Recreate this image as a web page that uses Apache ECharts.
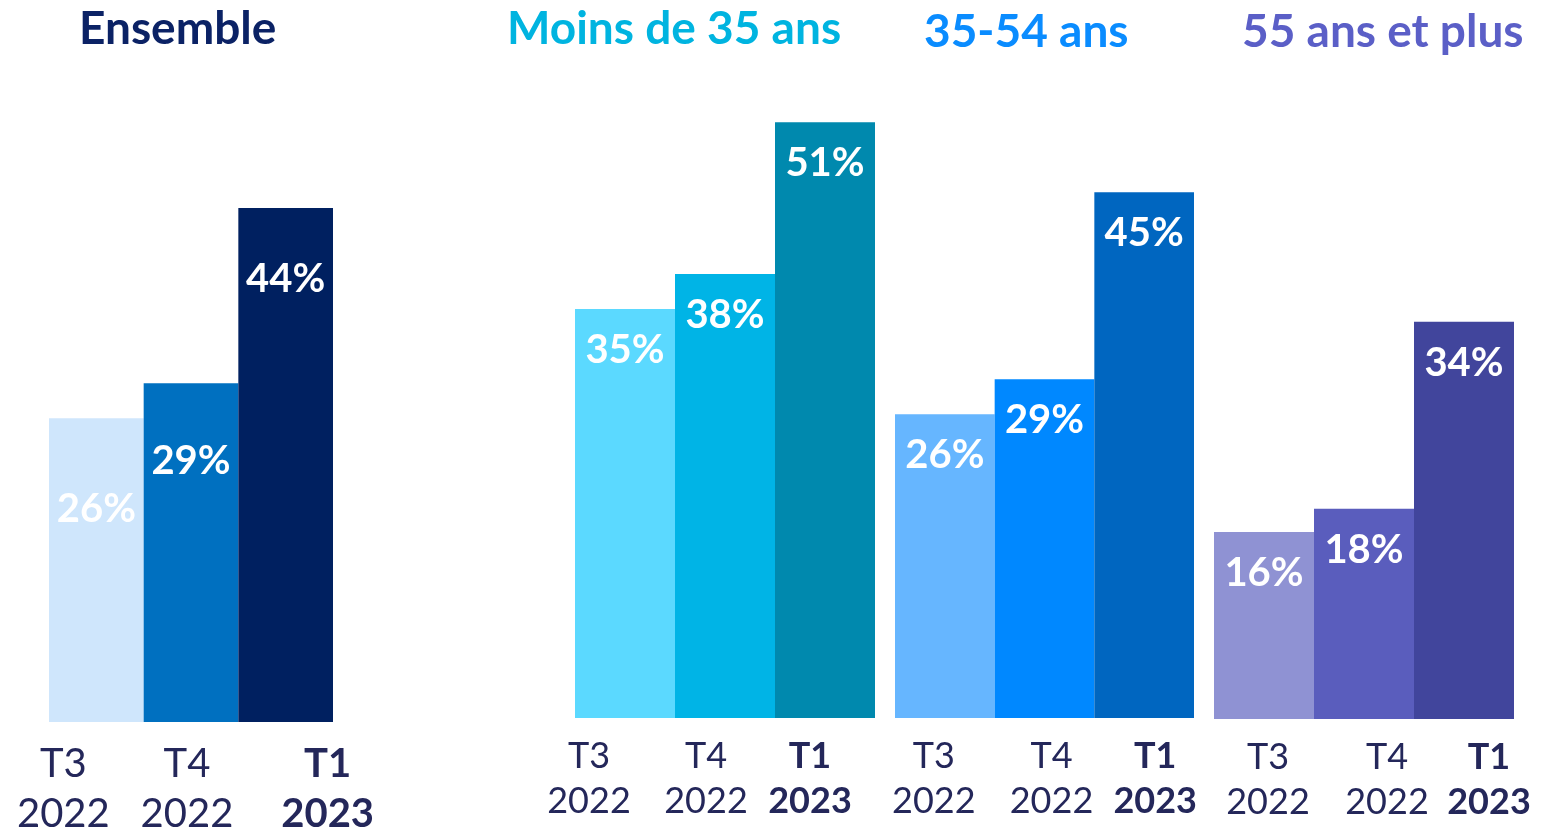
<!DOCTYPE html>
<html>
<head>
<meta charset="utf-8">
<script src="https://cdn.jsdelivr.net/npm/echarts@6/dist/echarts.min.js"></script>
<style>
  html, body { margin: 0; padding: 0; background: #fff; }
  #chart { width: 1544px; height: 831px; }
</style>
</head>
<body>
<div id="chart"></div>
<script>
const periods = ['T3 2022', 'T4 2022', 'T1 2023'];
const groups = ['Ensemble', 'Moins de 35 ans', '35-54 ans', '55 ans et plus'];
const ensemble = [26, 29, 44];
const moins35 = [35, 38, 51];
const age3554 = [26, 29, 45];
const plus55 = [16, 18, 34];

const values = [ensemble, moins35, age3554, plus55];
const colors = [
    ['#cfe6fc', '#0070c0', '#002060'],
    ['#5bd9ff', '#00b4e6', '#0089ae'],
    ['#66b6ff', '#0088ff', '#0066c0'],
    ['#8f92d3', '#5a5dbd', '#41459c']
];
const titleColors = ['#0b2265', '#00b4e0', '#0a8cff', '#5b5fc7'];
const titleLeft = [74, 502, 919, 1237];
const titleTop = [1, 1, 4, 4];
// label distance from bar top, and horizontal shift of period labels
const labelDist = [[71, 58, 51], [21, 21, 21], [21, 21, 21], [21, 21, 21]];
const tickShift = [[-33, -4, 42], [-36, -19, -15], [-11, 7, 11], [4, 23, 25]];

const grids = [
    { left: 49, width: 284, top: 21, height: 701, outerBoundsMode: 'none' },
    { left: 575, width: 300, top: 17, height: 701, outerBoundsMode: 'none' },
    { left: 895, width: 299, top: 17, height: 701, outerBoundsMode: 'none' },
    { left: 1214, width: 300, top: 18, height: 701, outerBoundsMode: 'none' }
];

const myChart = echarts.init(document.getElementById('chart'));

const option = {
    backgroundColor: '#fff',
    animation: false,
    title: groups.map((g, i) => ({
        text: g,
        left: titleLeft[i],
        top: titleTop[i],
        textStyle: { color: titleColors[i], fontSize: 46, fontWeight: 'bold', fontFamily: 'Lato' }
    })),
    grid: grids,
    xAxis: grids.map((g, i) => {
        const big = i === 0;
        const fs = big ? 40 : 36;
        return {
            type: 'category',
            gridIndex: i,
            data: periods.map((p, j) => {
                const s = tickShift[i][j];
                return {
                    value: p,
                    textStyle: { padding: s > 0 ? [0, 0, 0, 2 * s] : [0, -2 * s, 0, 0] }
                };
            }),
            axisLine: { show: false },
            axisTick: { show: false },
            axisLabel: {
                margin: big ? 17 : 16,
                fontFamily: 'Lato',
                color: '#24275a',
                formatter: (v, idx) => {
                    const [a, b] = v.split(' ');
                    const k = idx === 2 ? 'b' : 'n';
                    return `{${k}|${a}}\n{${k}|${b}}`;
                },
                rich: {
                    n: { fontSize: fs, lineHeight: big ? 50 : 45, color: '#24275a', fontFamily: 'Lato' },
                    b: { fontSize: fs, lineHeight: big ? 50 : 45, color: '#24275a', fontFamily: 'Lato', fontWeight: 'bold' }
                }
            }
        };
    }),
    yAxis: grids.map((g, i) => ({
        type: 'value',
        gridIndex: i,
        min: 0,
        max: 60,
        show: false
    })),
    series: values.map((vals, i) => ({
        type: 'bar',
        xAxisIndex: i,
        yAxisIndex: i,
        barCategoryGap: '0%',
        data: vals.map((v, j) => ({
            value: v,
            itemStyle: { color: colors[i][j] },
            label: { distance: labelDist[i][j] }
        })),
        label: {
            show: true,
            position: 'insideTop',
            formatter: '{c}%',
            color: '#fff',
            fontSize: 40,
            fontWeight: 'bold',
            fontFamily: 'Lato'
        }
    }))
};

myChart.setOption(option);
</script>
</body>
</html>
